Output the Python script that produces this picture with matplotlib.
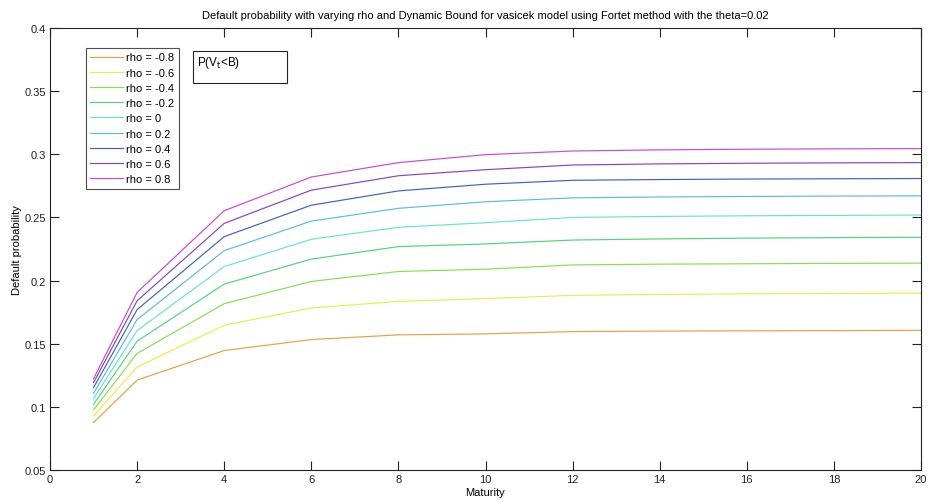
import numpy as np
import matplotlib
matplotlib.use('Agg')
import matplotlib.pyplot as plt
from matplotlib.patches import Rectangle

plt.rcParams['font.family'] = ['Liberation Sans', 'DejaVu Sans']

# maturities where the curves were evaluated
maturity = [1, 2, 4, 6, 8, 10, 12, 14, 16, 18, 20]

rho_labels = ['rho = -0.8', 'rho = -0.6', 'rho = -0.4', 'rho = -0.2', 'rho = 0',
              'rho = 0.2', 'rho = 0.4', 'rho = 0.6', 'rho = 0.8']

# default probability, one list per rho
p_m08 = [0.0876, 0.1212, 0.1446, 0.1533, 0.1570, 0.1578, 0.1596, 0.1600, 0.1602, 0.1604, 0.1606]
p_m06 = [0.0928, 0.1315, 0.1646, 0.1783, 0.1835, 0.1857, 0.1883, 0.1890, 0.1895, 0.1898, 0.1901]
p_m04 = [0.0976, 0.1423, 0.1817, 0.1993, 0.2072, 0.2090, 0.2124, 0.2130, 0.2133, 0.2136, 0.2138]
p_m02 = [0.1020, 0.1520, 0.1972, 0.2170, 0.2269, 0.2290, 0.2321, 0.2330, 0.2336, 0.2340, 0.2343]
p_0   = [0.1066, 0.1604, 0.2111, 0.2327, 0.2422, 0.2458, 0.2500, 0.2508, 0.2513, 0.2516, 0.2519]
p_02  = [0.1107, 0.1691, 0.2237, 0.2471, 0.2572, 0.2624, 0.2655, 0.2662, 0.2666, 0.2669, 0.2671]
p_04  = [0.1152, 0.1770, 0.2348, 0.2597, 0.2710, 0.2763, 0.2794, 0.2800, 0.2804, 0.2806, 0.2808]
p_06  = [0.1192, 0.1840, 0.2453, 0.2716, 0.2830, 0.2878, 0.2915, 0.2924, 0.2929, 0.2932, 0.2934]
p_08  = [0.1223, 0.1906, 0.2553, 0.2820, 0.2934, 0.2997, 0.3026, 0.3035, 0.3040, 0.3043, 0.3045]

all_p = [p_m08, p_m06, p_m04, p_m02, p_0, p_02, p_04, p_06, p_08]
colors = ['#e8a040', '#ecec48', '#84e050', '#50d47c', '#64e4d4',
          '#5cbce0', '#4060c4', '#8444c4', '#c848d8']

yticks = [0.05, 0.1, 0.15, 0.2, 0.25, 0.3, 0.35, 0.4]
ytick_labels = ['0.05', '0.1', '0.15', '0.2', '0.25', '0.3', '0.35', '0.4']
xticks = [0, 2, 4, 6, 8, 10, 12, 14, 16, 18, 20]

W, H = 935, 502
fig = plt.figure(figsize=(W / 100, H / 100), dpi=100)
ax = fig.add_axes([50 / W, (H - 471) / H, 871 / W, 442 / H])

for p, c, lab in zip(all_p, colors, rho_labels):
    ax.plot(maturity, p, color=c, lw=0.85, label=lab)

ax.set_xlim(0, 20)
ax.set_ylim(0.05, 0.4)
ax.set_xticks(xticks)
ax.set_yticks(yticks)
ax.set_yticklabels(ytick_labels)
ax.tick_params(direction='in', length=6.5, width=0.8, top=True, right=True,
               labelsize=8, colors='#222222', pad=3)
for s in ax.spines.values():
    s.set_linewidth(0.8)
    s.set_color('#222222')

ax.set_title('Default probability with varying rho and Dynamic Bound for vasicek model using Fortet method with the theta=0.02',
             fontsize=8, pad=7)
ax.set_xlabel('Maturity', fontsize=8, labelpad=2)
ax.set_ylabel('Default probability', fontsize=8, labelpad=2)

leg = ax.legend(loc='upper left', bbox_to_anchor=((86 - 50) / 871, (471 - 49) / 442),
                fontsize=8, frameon=True, fancybox=False, handlelength=2.9,
                handletextpad=0.3, labelspacing=0.47, borderpad=0.4, borderaxespad=0)
leg.get_frame().set_edgecolor('#222222')
leg.get_frame().set_linewidth(0.8)

# annotation box
fig.patches.append(Rectangle((193 / W, (H - 84) / H), 94 / W, 32 / H,
                             transform=fig.transFigure, fill=False,
                             edgecolor='#222222', lw=0.8))
fig.text(197 / W, (H - 55) / H, r'P(V$_\mathrm{t}$<B)', fontsize=8.5, va='top', ha='left')

fig.savefig('out.png', dpi=100)
